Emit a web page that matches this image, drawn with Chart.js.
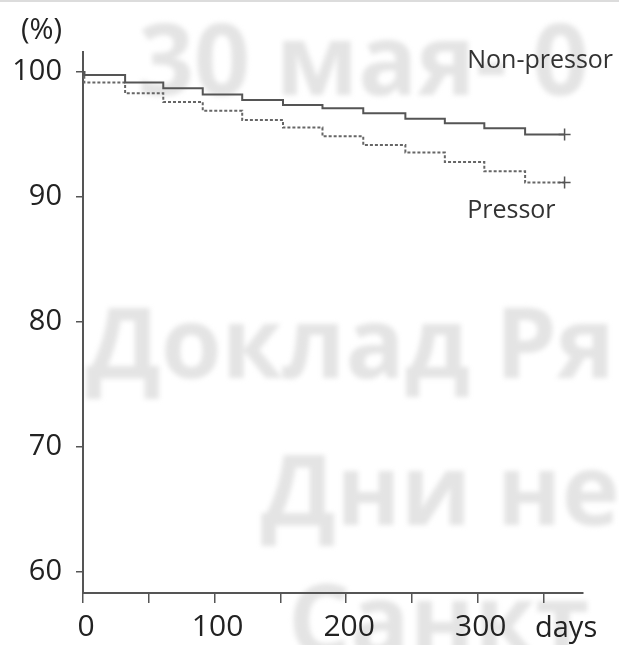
<!DOCTYPE html>
<html>
<head>
<meta charset="utf-8">
<script src="https://cdn.jsdelivr.net/npm/chart.js@4/dist/chart.umd.min.js"></script>
<style>
  html, body { margin: 0; padding: 0; background: #fff; }
  #wrap { width: 619px; height: 645px; position: relative; }
</style>
</head>
<body>
<div id="wrap"><canvas id="c" width="619" height="645"></canvas></div>
<script>
// Survival (%) over follow-up days, stepwise
const days          = [0, 1, 32, 61, 91, 121, 152, 182, 213, 245, 275, 305, 336, 366];
const nonPressor    = [100, 99.75, 99.15, 98.7, 98.2, 97.75, 97.35, 97.1, 96.7, 96.25, 95.9, 95.5, 95.0, 95.0];
const pressor       = [100, 99.15, 98.3, 97.6, 96.9, 96.15, 95.55, 94.85, 94.15, 93.55, 92.8, 92.05, 91.15, 91.15];
const seriesNames   = ['Non-pressor', 'Pressor'];
const yTicks        = [60, 70, 80, 90, 100];
const xTicks        = [0, 50, 100, 150, 200, 250, 300, 350];
const xTickLabels   = ['0', '', '100', '', '200', '', '300', ''];
const watermarkText = ['30 мая- 0', 'Доклад Ря', 'Дни не', 'Санкт'];

const FONT = '"Open Sans", "Noto Sans", sans-serif';

const toPoints = (vals) => days.map((d, i) => ({ x: d, y: vals[i] }));
const censorRadius = days.map((d, i) => (i === days.length - 1 ? 6 : 0));

// faint watermark behind the plot
const watermark = {
  id: 'watermark',
  beforeDraw(chart) {
    const ctx = chart.ctx;
    ctx.save();
    ctx.fillStyle = '#fff';
    ctx.fillRect(0, 0, chart.width, chart.height);
    ctx.strokeStyle = '#dcdcdc';
    ctx.lineWidth = 2;
    ctx.beginPath(); ctx.moveTo(0, 1); ctx.lineTo(chart.width, 1); ctx.stroke();
    ctx.filter = 'blur(2.5px)';
    ctx.fillStyle = '#e4e4e4';
    ctx.textAlign = 'left';
    ctx.textBaseline = 'alphabetic';
    ctx.font = 'bold 98px ' + FONT;
    ctx.fillText(watermarkText[0], 138, 95);
    ctx.fillText(watermarkText[1], 86, 378);
    ctx.fillText(watermarkText[2], 261, 525);
    ctx.fillText(watermarkText[3], 288, 655);
    ctx.restore();
  }
};

// axis captions and series labels
const annotations = {
  id: 'annotations',
  afterDraw(chart) {
    const ctx = chart.ctx;
    const xs = chart.scales.x, ys = chart.scales.y;
    ctx.save();
    ctx.fillStyle = '#222';
    ctx.textBaseline = 'middle';
    ctx.font = '29px ' + FONT;
    ctx.textAlign = 'right';
    ctx.fillText('(%)', ys.right - 21, 31);
    ctx.textAlign = 'left';
    ctx.fillText('days', 535, 629);
    ctx.font = '25px ' + FONT;
    ctx.fillStyle = '#333';
    ctx.fillText(seriesNames[0], xs.getPixelForValue(292), ys.getPixelForValue(100.9));
    ctx.fillText(seriesNames[1], xs.getPixelForValue(292), ys.getPixelForValue(88.9));
    ctx.restore();
  }
};

new Chart(document.getElementById('c'), {
  type: 'line',
  data: {
    datasets: [
      {
        label: seriesNames[0],
        data: toPoints(nonPressor),
        stepped: 'before',
        borderColor: '#555',
        borderWidth: 2,
        pointStyle: 'cross',
        pointRadius: censorRadius,
        pointBorderColor: '#555',
        pointBorderWidth: 1.5,
        fill: false
      },
      {
        label: seriesNames[1],
        data: toPoints(pressor),
        stepped: 'before',
        borderColor: '#666',
        borderWidth: 2,
        borderDash: [3, 2],
        pointStyle: 'cross',
        pointRadius: censorRadius,
        pointBorderColor: '#555',
        pointBorderWidth: 1.5,
        fill: false
      }
    ]
  },
  options: {
    responsive: false,
    animation: false,
    layout: { padding: { left: 0, top: 52, right: 36, bottom: 0 } },
    plugins: { legend: { display: false }, tooltip: { enabled: false } },
    scales: {
      x: {
        type: 'linear',
        min: 0,
        max: 380,
        afterBuildTicks: (s) => { s.ticks = xTicks.map(v => ({ value: v })); },
        afterFit: (s) => { s.height = 52; },
        border: { color: '#555', width: 2 },
        grid: { drawOnChartArea: false, drawTicks: true, tickLength: 10, color: '#555', lineWidth: 1.5 },
        ticks: {
          autoSkip: false,
          maxRotation: 0,
          padding: 6,
          labelOffset: 3,
          color: '#222',
          font: { family: FONT, size: 30 },
          callback: (v) => xTickLabels[xTicks.indexOf(v)] ?? ''
        }
      },
      y: {
        min: 58.3,
        max: 101.6,
        afterBuildTicks: (s) => { s.ticks = yTicks.map(v => ({ value: v })); },
        afterFit: (s) => { s.width = 83; },
        border: { color: '#555', width: 2 },
        grid: { drawOnChartArea: false, drawTicks: true, tickLength: 7, color: '#555', lineWidth: 1.5 },
        ticks: {
          padding: 14,
          color: '#222',
          font: { family: FONT, size: 29 },
          callback: (v) => String(v)
        }
      }
    }
  },
  plugins: [watermark, annotations]
});
</script>
</body>
</html>
